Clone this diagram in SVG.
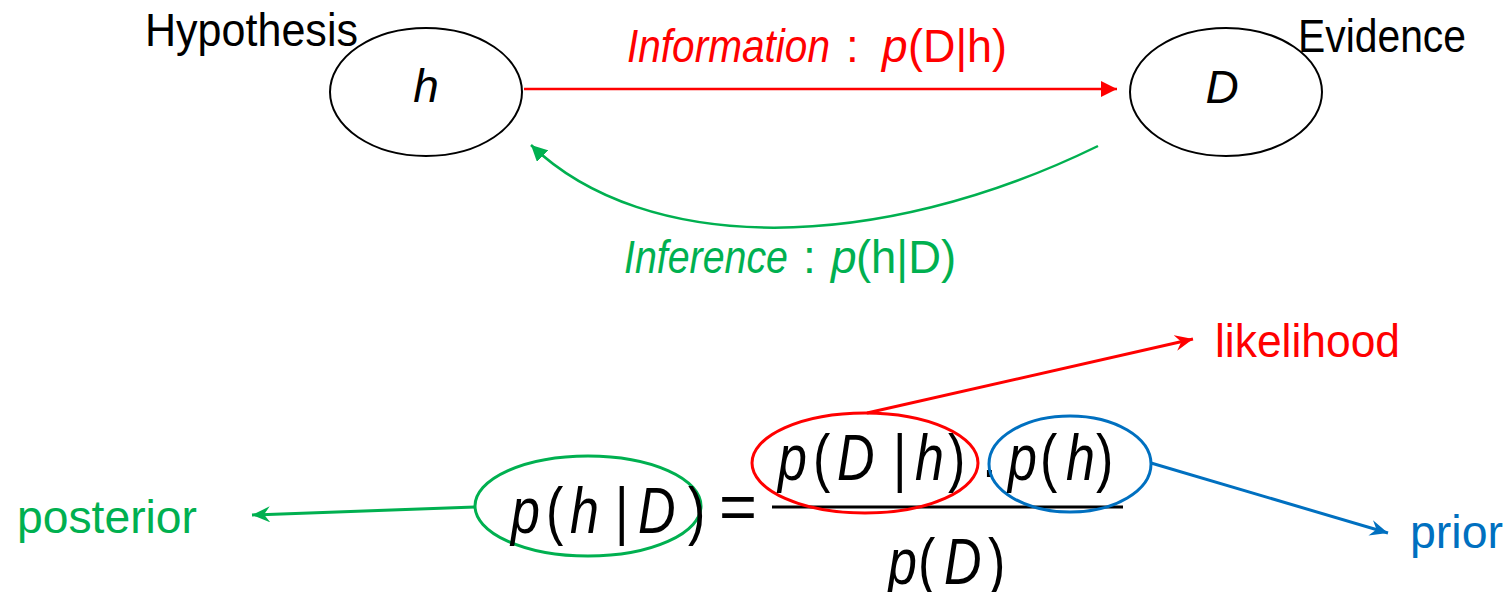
<svg xmlns="http://www.w3.org/2000/svg" width="1510" height="592" viewBox="0 0 1510 592">
<style>
  text { font-family: "Liberation Sans", Arial, sans-serif; }
  .lbl { font-size: 46px; }
  .it { font-style: italic; }
  .math { font-size: 65px; font-style: italic; fill: #000; }
  .up { font-style: normal; }
  .node { fill: #fff; stroke: #000; stroke-width: 2; }
  .red { fill: #FF0000; }
  .green { fill: #00B050; }
  .blue { fill: #0070C0; }
  .black { fill: #000; }
</style>
<defs>
  <marker id="triRed" markerUnits="userSpaceOnUse" markerWidth="17" markerHeight="16" refX="16" refY="8" orient="auto">
    <path d="M0,0 L16,8 L0,16 z" fill="#FF0000"/>
  </marker>
  <marker id="triGreen" markerUnits="userSpaceOnUse" markerWidth="17" markerHeight="16" refX="16" refY="8" orient="auto">
    <path d="M0,0 L16,8 L0,16 z" fill="#00B050"/>
  </marker>
  <marker id="barbRed" markerUnits="userSpaceOnUse" markerWidth="19" markerHeight="16" refX="18" refY="8" orient="auto">
    <path d="M0,0 L18,8 L0,16 L6,8 z" fill="#FF0000"/>
  </marker>
  <marker id="barbGreen" markerUnits="userSpaceOnUse" markerWidth="19" markerHeight="16" refX="18" refY="8" orient="auto">
    <path d="M0,0 L18,8 L0,16 L6,8 z" fill="#00B050"/>
  </marker>
  <marker id="barbBlue" markerUnits="userSpaceOnUse" markerWidth="19" markerHeight="16" refX="18" refY="8" orient="auto">
    <path d="M0,0 L18,8 L0,16 L6,8 z" fill="#0070C0"/>
  </marker>
</defs>

<g id="connectors" fill="none">
  <path id="edge-information" d="M524,89 L1117,89" stroke="#FF0000" stroke-width="2.5" marker-end="url(#triRed)"/>
  <path id="edge-inference" d="M1098,146 C875,255 645,255 531,145" stroke="#00B050" stroke-width="2.5" marker-end="url(#triGreen)"/>
  <path id="edge-posterior" d="M475,507 L252,515" stroke="#00B050" stroke-width="3" marker-end="url(#barbGreen)"/>
  <path id="edge-likelihood" d="M867,413 L1193,339" stroke="#FF0000" stroke-width="3" marker-end="url(#barbRed)"/>
  <path id="edge-prior" d="M1151,463 L1388,533" stroke="#0070C0" stroke-width="3" marker-end="url(#barbBlue)"/>
</g>

<g id="node-hypothesis">
  <ellipse class="node" cx="426" cy="92" rx="96" ry="64"/>
  <text class="lbl black" x="145" y="46" textLength="213" lengthAdjust="spacingAndGlyphs">Hypothesis</text>
  <text class="lbl it black" x="426" y="102" text-anchor="middle">h</text>
</g>

<g id="node-evidence">
  <ellipse class="node" cx="1226" cy="92" rx="96" ry="64"/>
  <text class="lbl black" x="1298" y="52" textLength="168" lengthAdjust="spacingAndGlyphs">Evidence</text>
  <text class="lbl it black" x="1222" y="103" text-anchor="middle">D</text>
</g>

<g id="label-information">
  <text class="lbl it red" x="627" y="62" textLength="203" lengthAdjust="spacingAndGlyphs">Information</text>
  <text class="lbl red" x="846" y="62">:</text>
  <text class="lbl it red" x="882" y="62">p</text>
  <text class="lbl red" x="908" y="62" textLength="99" lengthAdjust="spacingAndGlyphs">(D|h)</text>
</g>

<g id="label-inference">
  <text class="lbl it green" x="624" y="273" textLength="164" lengthAdjust="spacingAndGlyphs">Inference</text>
  <text class="lbl green" x="803" y="273">:</text>
  <text class="lbl it green" x="831" y="273">p</text>
  <text class="lbl green" x="856" y="273" textLength="100" lengthAdjust="spacingAndGlyphs">(h|D)</text>
</g>

<g id="node-posterior">
  <ellipse cx="588" cy="506" rx="113" ry="50" fill="none" stroke="#00B050" stroke-width="3"/>
  <g transform="scale(0.8,1)">
    <text class="math" y="533"><tspan x="638.75">p</tspan><tspan x="682.5" class="up">(</tspan><tspan x="712.5">h</tspan><tspan x="768.75" class="up">|</tspan><tspan x="797.5">D</tspan><tspan x="860" class="up">)</tspan></text>
  </g>
  <text class="lbl green" x="17" y="533" textLength="180" lengthAdjust="spacingAndGlyphs">posterior</text>
</g>

<g id="equals">
  <text class="math up" x="719" y="529" font-style="normal">=</text>
  <line x1="772" y1="507" x2="1123" y2="507" stroke="#000" stroke-width="3"/>
</g>

<g id="node-likelihood">
  <ellipse cx="865" cy="463" rx="113" ry="50" fill="none" stroke="#FF0000" stroke-width="3"/>
  <g transform="scale(0.8,1)">
    <text class="math" y="480"><tspan x="972.5">p</tspan><tspan x="1016.25" class="up">(</tspan><tspan x="1046.25">D</tspan><tspan x="1116.25" class="up">|</tspan><tspan x="1143.75">h</tspan><tspan x="1185" class="up">)</tspan><tspan x="1226" class="up" dy="11">·</tspan></text>
  </g>
  <text class="lbl red" x="1215" y="357" textLength="185" lengthAdjust="spacingAndGlyphs">likelihood</text>
</g>

<g id="node-prior">
  <ellipse cx="1070" cy="464" rx="81" ry="48" fill="none" stroke="#0070C0" stroke-width="3"/>
  <g transform="scale(0.8,1)">
    <text class="math" y="480"><tspan x="1260">p</tspan><tspan x="1300" class="up">(</tspan><tspan x="1332.5">h</tspan><tspan x="1370" class="up">)</tspan></text>
  </g>
  <text class="lbl blue" x="1410" y="548" textLength="93" lengthAdjust="spacingAndGlyphs">prior</text>
</g>

<g id="node-evidence-term">
  <g transform="scale(0.8,1)">
    <text class="math" y="584"><tspan x="1110">p</tspan><tspan x="1147.5" class="up">(</tspan><tspan x="1180">D</tspan><tspan x="1235" class="up">)</tspan></text>
  </g>
</g>
</svg>
